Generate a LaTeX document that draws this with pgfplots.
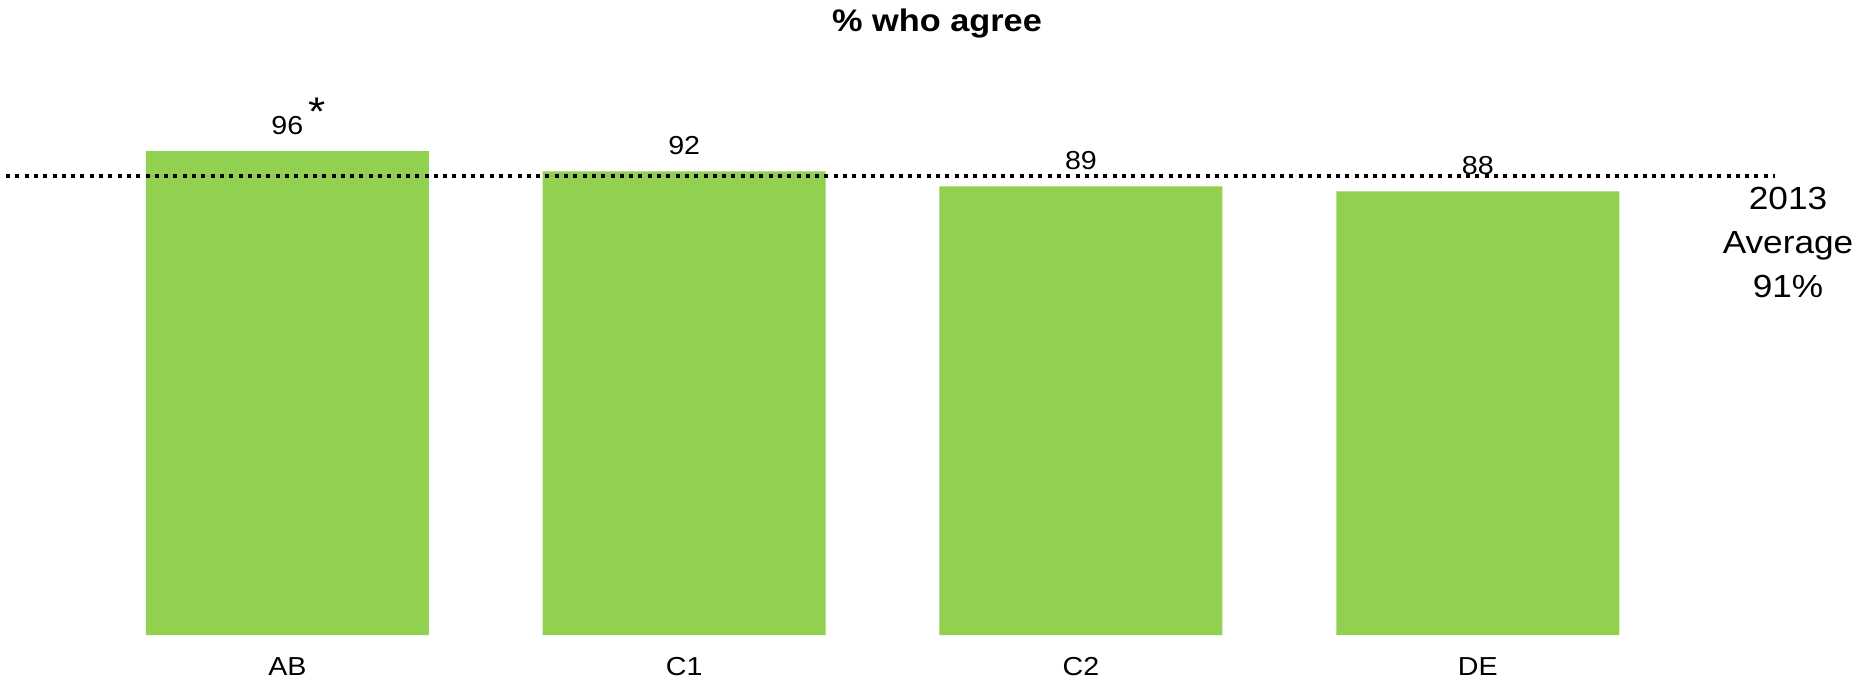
\documentclass[border=0pt]{standalone}
\usepackage{fontspec}
\setmainfont[FakeStretch=1.1]{Liberation Sans}
\usepackage{pgfplots}
\pgfplotsset{compat=1.18}
\definecolor{bargreen}{HTML}{92D050}

\begin{document}
\begin{tikzpicture}
\begin{axis}[
    at={(3pt,23pt)}, anchor=south west,
    scale only axis,
    width=884.5pt, height=252pt,
    xmin=-0.709, xmax=3.749,
    ymin=0, ymax=100,
    axis line style={draw=none},
    tick style={draw=none},
    ytick=\empty,
    xtick={0,1,2,3},
    xticklabels={AB,C1,C2,DE},
    xticklabel style={font=\fontsize{13}{15}\selectfont, anchor=center, yshift=-16pt},
    /pgf/number format/assume math mode=true,
    clip=false,
]
\addplot[ybar, bar width=141.5pt, fill=bargreen, draw=none,
    nodes near coords,
    nodes near coords style={font=\fontsize{13}{15}\selectfont, anchor=center, yshift=13pt, black}]
    coordinates { (0,96) (1,92) (2,89) (3,88) };
% 2013 average
\addplot[black, line width=2pt, dash pattern=on 2pt off 2.65pt]
    coordinates { (-0.709,91) (3.749,91) };
\node[font=\fontsize{20}{20}\selectfont, anchor=north, inner sep=0pt,
    xshift=15pt, yshift=27pt] at (axis cs:0,96) {*};
\end{axis}
\node[font=\bfseries\fontsize{15.6}{18}\selectfont] at (468.5pt,328.5pt) {\% who agree};
\node[align=center, font=\fontsize{16}{22}\selectfont] at (894pt,219.5pt) {2013\\Average\\91\%};
\pgfresetboundingbox
\path[use as bounding box] (0,0) rectangle (929.5pt,340.5pt);
\end{tikzpicture}
\end{document}
